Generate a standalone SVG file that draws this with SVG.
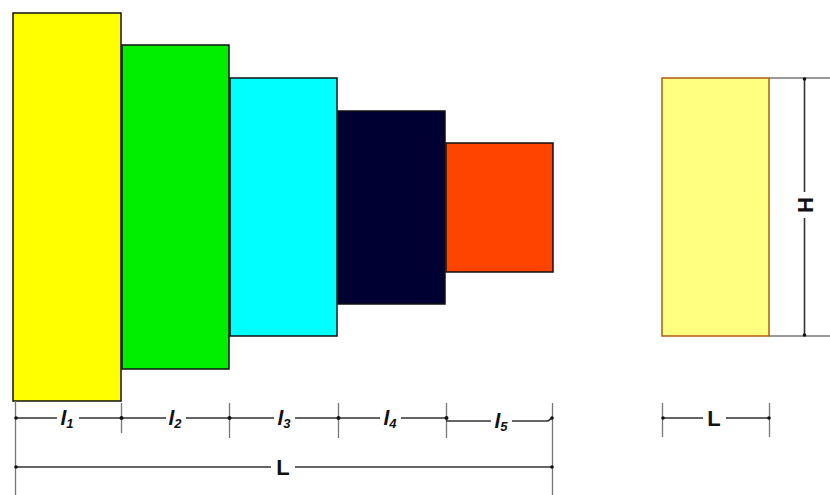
<svg xmlns="http://www.w3.org/2000/svg" width="830" height="495" viewBox="0 0 830 495">
<style>
.blk{stroke:#111;stroke-width:1.5}
.dim{stroke:#333;stroke-width:1.6;fill:none}
.ext{stroke:#777;stroke-width:1.3;fill:none}
.dot{fill:#111}
.lbl{font-family:"Liberation Sans",Arial,sans-serif;font-weight:bold;font-style:italic;font-size:21px;fill:#111;text-anchor:middle}
.sub{font-size:13px}
.big{font-family:"Liberation Sans",Arial,sans-serif;font-weight:bold;font-size:22px;fill:#111;text-anchor:middle}
</style>
<g id="step1"><rect class="blk" x="13" y="13" width="108" height="388" fill="#ffff00"/></g>
<g id="step2"><rect class="blk" x="122" y="45" width="107" height="324" fill="#00ee00"/></g>
<g id="step3"><rect class="blk" x="230" y="78" width="107" height="258" fill="#00ffff" stroke="#225"/></g>
<g id="step4"><rect class="blk" x="338" y="111" width="107" height="193" fill="#000033"/></g>
<g id="step5"><rect class="blk" x="446" y="143" width="107" height="129" fill="#ff4400" stroke="#822"/></g>
<g id="block"><rect x="662" y="78" width="107" height="258" fill="#ffff80" stroke="#b05a10" stroke-width="1.5"/></g>
<g id="dimensions">
<line class="ext" x1="15.5" y1="401" x2="15.5" y2="495"/>
<line class="ext" x1="552.5" y1="403" x2="552.5" y2="495"/>
<line class="ext" x1="121.5" y1="403" x2="121.5" y2="433"/>
<line class="ext" x1="229.5" y1="403" x2="229.5" y2="438"/>
<line class="ext" x1="338.5" y1="403" x2="338.5" y2="438"/>
<line class="ext" x1="446.5" y1="403" x2="446.5" y2="438"/>
<path class="dim" d="M15 418H57M79 418H121M121 418H166M186 418H229M229 418H274M295 418H338M338 418H380M401 418H446M446 421H491M512 421H548L552 418"/>
<path class="dim" d="M15 467H271M295 467H552"/>
<circle class="dot" cx="16" cy="418" r="1.8"/><circle class="dot" cx="121.5" cy="418" r="2"/><circle class="dot" cx="229.5" cy="418" r="2"/><circle class="dot" cx="338.5" cy="418" r="2"/><circle class="dot" cx="446.5" cy="418" r="2"/><circle class="dot" cx="552" cy="418" r="1.8"/>
<circle class="dot" cx="16" cy="467" r="1.8"/><circle class="dot" cx="552" cy="467" r="1.8"/>
<line class="ext" x1="662.5" y1="403" x2="662.5" y2="437"/>
<line class="ext" x1="769.5" y1="403" x2="769.5" y2="437"/>
<path class="dim" d="M662 418H703M726 418H769"/>
<circle class="dot" cx="663" cy="418" r="1.8"/><circle class="dot" cx="769" cy="418" r="1.8"/>
<line class="ext" x1="769" y1="78" x2="830" y2="78"/>
<line class="ext" x1="769" y1="336" x2="830" y2="336"/>
<path class="dim" d="M804.5 78V192M804.5 218V336"/>
<circle class="dot" cx="804.5" cy="79" r="1.8"/><circle class="dot" cx="804.5" cy="335" r="1.8"/>
</g>
<g id="labels">
<text class="lbl" x="67" y="425">l<tspan class="sub" dy="3">1</tspan></text>
<text class="lbl" x="175" y="425">l<tspan class="sub" dy="3">2</tspan></text>
<text class="lbl" x="284" y="425">l<tspan class="sub" dy="3">3</tspan></text>
<text class="lbl" x="390" y="425">l<tspan class="sub" dy="3">4</tspan></text>
<text class="lbl" x="501" y="428">l<tspan class="sub" dy="3">5</tspan></text>
<text class="big" x="283" y="475">L</text>
<text class="big" x="714" y="426">L</text>
<text class="big" x="0" y="0" transform="translate(812.5 205) rotate(-90)">H</text>
</g>
</svg>
